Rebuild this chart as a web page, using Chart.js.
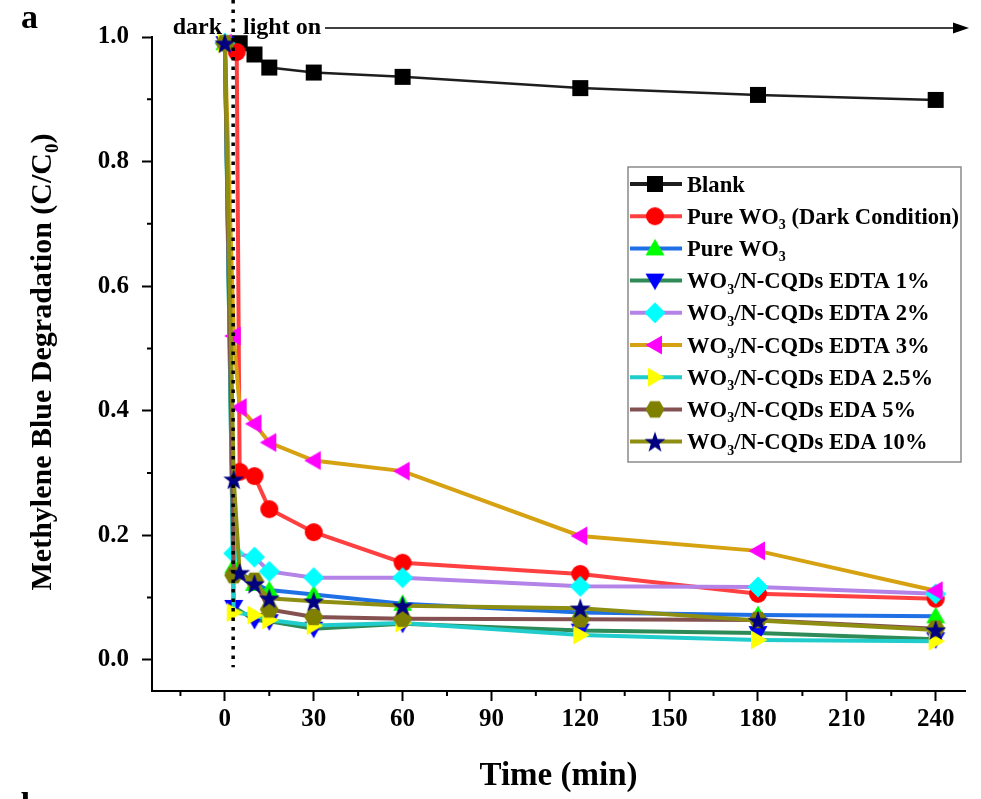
<!DOCTYPE html>
<html>
<head>
<meta charset="utf-8">
<title>Methylene blue degradation</title>
<script src="https://cdn.jsdelivr.net/npm/chart.js@4.4.1/dist/chart.umd.min.js"></script>
<style>
  html, body { margin: 0; padding: 0; background: #fff; }
  canvas { display: block; }
</style>
</head>
<body>
<canvas id="chart" width="981" height="799"></canvas>
<script>
// Legend labels, in the order of the figure
const seriesLabels = [
  "Blank",
  "Pure WO₃ (Dark Condition)",
  "Pure WO₃",
  "WO₃/N-CQDs EDTA 1%",
  "WO₃/N-CQDs EDTA 2%",
  "WO₃/N-CQDs EDTA 3%",
  "WO₃/N-CQDs EDA 2.5%",
  "WO₃/N-CQDs EDA 5%",
  "WO₃/N-CQDs EDA 10%"
];

// Sampling times (min)
const blankTimes = [5, 10, 15, 30, 60, 120, 180, 240];
const darkTimes = [4, 5, 10, 15, 30, 60, 120, 180, 240];
const lightTimes = [0, 3, 10, 15, 30, 60, 120, 180, 240];
const lightTimesWith5 = [0, 3, 5, 10, 15, 30, 60, 120, 180, 240];

// C/C0
const blankValues = [0.99, 0.972, 0.951, 0.943, 0.936, 0.918, 0.907, 0.899];
const pureDarkValues = [0.976, 0.302, 0.295, 0.242, 0.205, 0.156, 0.138, 0.106, 0.098];
const pureValues = [0.99, 0.15, 0.122, 0.112, 0.105, 0.09, 0.076, 0.072, 0.07];
const edta1Values = [0.99, 0.085, 0.064, 0.062, 0.05, 0.058, 0.047, 0.043, 0.033];
const edta2Values = [0.99, 0.171, 0.165, 0.142, 0.132, 0.132, 0.118, 0.117, 0.106];
const edta3Values = [0.99, 0.52, 0.405, 0.379, 0.349, 0.32, 0.303, 0.199, 0.175, 0.111];
const eda25Values = [0.99, 0.076, 0.072, 0.064, 0.055, 0.059, 0.04, 0.032, 0.03];
const eda5Values = [0.99, 0.136, 0.127, 0.081, 0.069, 0.066, 0.065, 0.064, 0.05];
const eda10Values = [0.99, 0.29, 0.14, 0.122, 0.099, 0.094, 0.087, 0.083, 0.063, 0.048];

const seriesTimes = [blankTimes, darkTimes, lightTimes, lightTimes, lightTimes, lightTimesWith5, lightTimes, lightTimes, lightTimesWith5];
const seriesValues = [blankValues, pureDarkValues, pureValues, edta1Values, edta2Values, edta3Values, eda25Values, eda5Values, eda10Values];

// Axis ticks
const xTicks = [0, 30, 60, 90, 120, 150, 180, 210, 240];
const xMinorTicks = [-15, 15, 45, 75, 105, 135, 165, 195, 225];
const yTicks = [0, 0.2, 0.4, 0.6, 0.8, 1.0];
const yMinorTicks = [0.1, 0.3, 0.5, 0.7, 0.9];
const lightOnTime = 2.8;

// Styles
const lineColors = ["#1e1e1e", "#ff4040", "#1f6fe5", "#2e8b57", "#b383e8", "#d6a212", "#20cccc", "#845050", "#8e8e12"];
const markerColors = ["#000000", "#ff0000", "#00ff00", "#0000ff", "#00ffff", "#ff00ff", "#ffff00", "#808000", "#000080"];
const markerShapes = ["square", "circle", "up", "down", "diamond", "left", "right", "hexagon", "star"];

const SERIF = '"Liberation Serif", "Times New Roman", serif';

// Draw a regular polygon path
function polygon(ctx, x, y, n, r, a0) {
  for (let k = 0; k < n; k++) {
    const a = a0 + (2 * Math.PI * k) / n;
    const px = x + r * Math.cos(a), py = y + r * Math.sin(a);
    if (k === 0) ctx.moveTo(px, py); else ctx.lineTo(px, py);
  }
  ctx.closePath();
}

function drawShape(ctx, shape, x, y, fill) {
  ctx.fillStyle = fill;
  ctx.beginPath();
  switch (shape) {
    case "square": ctx.rect(x - 8, y - 8, 16, 16); break;
    case "circle": ctx.arc(x, y, 9, 0, 2 * Math.PI); break;
    case "up": polygon(ctx, x, y + 1.5, 3, 11, -Math.PI / 2); break;
    case "down": polygon(ctx, x, y - 1.5, 3, 11, Math.PI / 2); break;
    case "left": polygon(ctx, x + 1.5, y, 3, 11, Math.PI); break;
    case "right": polygon(ctx, x - 1.5, y, 3, 11, 0); break;
    case "diamond": polygon(ctx, x, y, 4, 10.5, -Math.PI / 2); break;
    case "hexagon": polygon(ctx, x, y, 6, 9.5, 0); break;
    case "star":
      for (let k = 0; k < 10; k++) {
        const r = k % 2 ? 4.4 : 11;
        const a = -Math.PI / 2 + (k * Math.PI) / 5;
        const px = x + r * Math.cos(a), py = y + 1 + r * Math.sin(a);
        if (k === 0) ctx.moveTo(px, py); else ctx.lineTo(px, py);
      }
      ctx.closePath();
      break;
  }
  ctx.fill();
}

// Marker images used both by the chart and the legend
function makeMarker(shape, fill) {
  const c = document.createElement("canvas");
  c.width = 26;
  c.height = 26;
  drawShape(c.getContext("2d"), shape, 13, 13, fill);
  return c;
}
const markerImages = markerShapes.map((s, i) => makeMarker(s, markerColors[i]));

// Text with unicode subscript digits drawn small and lowered
function drawSubText(ctx, text, x, y, size, align) {
  const runs = [];
  for (const ch of text) {
    const sub = ch >= "\u2080" && ch <= "\u2089";
    const c = sub ? String.fromCharCode(ch.charCodeAt(0) - 0x2080 + 48) : ch;
    const last = runs[runs.length - 1];
    if (last && last.sub === sub) last.text += c; else runs.push({ text: c, sub });
  }
  const big = `bold ${size}px ${SERIF}`;
  const small = `bold ${Math.round(size * 0.62)}px ${SERIF}`;
  let width = 0;
  runs.forEach(r => { ctx.font = r.sub ? small : big; r.w = ctx.measureText(r.text).width; width += r.w; });
  let cx = align === "center" ? x - width / 2 : x;
  ctx.textAlign = "left";
  ctx.textBaseline = "alphabetic";
  runs.forEach(r => {
    ctx.font = r.sub ? small : big;
    ctx.fillText(r.text, cx, r.sub ? y + size * 0.24 : y);
    cx += r.w;
  });
}

// Dotted light-on line, annotations, minor ticks, legend and y title
const decorPlugin = {
  id: "decor",
  afterDatasetsDraw(chart) {
    const { ctx, scales: { x, y } } = chart;
    const px = x.getPixelForValue(lightOnTime);
    ctx.save();
    ctx.strokeStyle = "#000";
    ctx.lineWidth = 3.5;
    ctx.setLineDash([3.5, 6]);
    ctx.beginPath();
    ctx.moveTo(px, 0);
    ctx.lineTo(px, y.getPixelForValue(-0.012));
    ctx.stroke();
    ctx.restore();
  },
  afterDraw(chart) {
    const { ctx, chartArea, scales: { x, y } } = chart;
    ctx.save();
    ctx.fillStyle = "#000";
    ctx.strokeStyle = "#000";

    // minor ticks
    ctx.lineWidth = 2;
    ctx.beginPath();
    xMinorTicks.forEach(v => {
      const px = x.getPixelForValue(v);
      ctx.moveTo(px, chartArea.bottom);
      ctx.lineTo(px, chartArea.bottom + 5);
    });
    yMinorTicks.forEach(v => {
      const py = y.getPixelForValue(v);
      ctx.moveTo(chartArea.left, py);
      ctx.lineTo(chartArea.left - 5, py);
    });
    ctx.stroke();

    // panel letters
    ctx.font = `bold 34px ${SERIF}`;
    ctx.textAlign = "left";
    ctx.textBaseline = "alphabetic";
    ctx.fillText("a", 21, 28);
    ctx.fillText("b", 21, 816);

    // dark / light on
    ctx.font = `bold 24px ${SERIF}`;
    ctx.textAlign = "right";
    ctx.fillText("dark", 222, 34);
    ctx.textAlign = "left";
    ctx.fillText("light on", 243, 34);
    ctx.lineWidth = 1.5;
    ctx.beginPath();
    ctx.moveTo(325, 28);
    ctx.lineTo(958, 28);
    ctx.stroke();
    ctx.beginPath();
    ctx.moveTo(969, 28);
    ctx.lineTo(953, 22.5);
    ctx.lineTo(953, 33.5);
    ctx.closePath();
    ctx.fill();

    // y axis title
    ctx.save();
    ctx.translate(51, 362);
    ctx.rotate(-Math.PI / 2);
    drawSubText(ctx, "Methylene Blue Degradation (C/C₀)", 0, 0, 30, "center");
    ctx.restore();

    // legend
    const box = { left: 628, top: 167, right: 961, bottom: 462 };
    ctx.lineWidth = 1.5;
    ctx.strokeStyle = "#8a8a8a";
    ctx.strokeRect(box.left, box.top, box.right - box.left, box.bottom - box.top);
    chart.data.datasets.forEach((ds, i) => {
      const ry = 184 + i * 32.2;
      ctx.strokeStyle = ds.borderColor;
      ctx.lineWidth = 4;
      ctx.beginPath();
      ctx.moveTo(630, ry);
      ctx.lineTo(682, ry);
      ctx.stroke();
      ctx.drawImage(markerImages[i], 655 - 13, ry - 13);
      ctx.fillStyle = "#000";
      drawSubText(ctx, ds.label, 687, ry + 7.5, 22.6, "left");
    });
    ctx.restore();
  }
};

const datasets = seriesLabels.map((label, i) => ({
  label,
  data: seriesTimes[i].map((t, k) => ({ x: t, y: seriesValues[i][k] })),
  borderColor: lineColors[i],
  borderWidth: i === 0 ? 2.5 : 4,
  pointStyle: markerImages[i],
  pointRadius: 9,
  tension: 0,
  clip: false,
  order: seriesLabels.length - i
}));

const tickFont = { family: SERIF, size: 25, weight: "bold" };
const gridStyle = { drawOnChartArea: false, drawTicks: true, tickLength: 10, tickWidth: 2, tickColor: "#000" };
const borderStyle = { display: true, color: "#000", width: 2 };

new Chart(document.getElementById("chart"), {
  type: "line",
  data: { datasets },
  plugins: [decorPlugin],
  options: {
    responsive: false,
    animation: false,
    layout: { padding: { top: 37, right: 16, left: 0, bottom: 0 } },
    plugins: { legend: { display: false }, tooltip: { enabled: false } },
    scales: {
      x: {
        type: "linear",
        min: -24.6,
        max: 249.9,
        afterBuildTicks: s => { s.ticks = xTicks.map(v => ({ value: v })); },
        afterFit: s => { s.height = 108; },
        ticks: { font: tickFont, color: "#000", padding: 4, maxRotation: 0, callback: v => String(v) },
        grid: gridStyle,
        border: borderStyle,
        title: {
          display: true,
          text: "Time (min)",
          color: "#000",
          font: { family: SERIF, size: 33, weight: "bold" },
          padding: { top: 0, bottom: 3 }
        }
      },
      y: {
        type: "linear",
        min: -0.05,
        max: 1.0,
        afterBuildTicks: s => { s.ticks = yTicks.map(v => ({ value: v })); },
        afterFit: s => { s.width = 152; },
        ticks: { font: tickFont, color: "#000", padding: 13, callback: v => Number(v).toFixed(1) },
        grid: gridStyle,
        border: borderStyle
      }
    }
  }
});
</script>
</body>
</html>
